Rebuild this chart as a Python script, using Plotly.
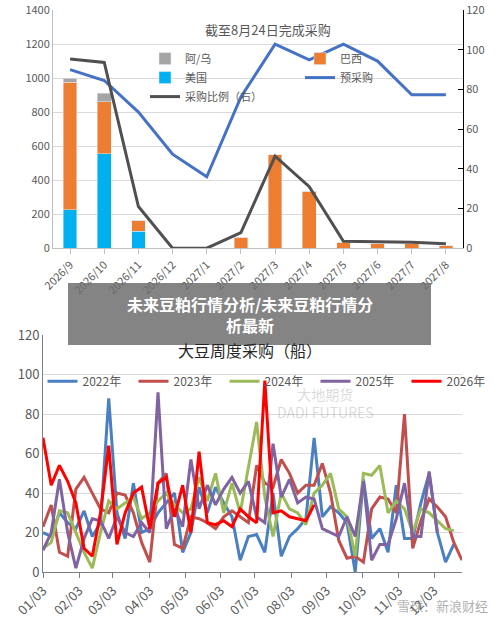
import plotly.graph_objects as go

months = ["2026/9","2026/10","2026/11","2026/12","2027/1","2027/2","2027/3","2027/4","2027/5","2027/6","2027/7","2027/8"]
usa = [225, 555, 100, 0, 0, 0, 0, 0, 0, 0, 0, 0]
brazil = [750, 305, 65, 0, 0, 65, 550, 335, 35, 25, 25, 15]
arg = [25, 50, 0, 0, 0, 0, 0, 0, 0, 0, 0, 0]
pre_buy = [1050, 986, 800, 553, 420, 889, 1200, 1107, 1200, 1100, 902, 902]
ratio = [95.4, 93.6, 21, 0, 0, 7.9, 46.4, 31, 3.5, 3.3, 3.0, 2.2]

week_ticks = ["01/03","02/03","03/03","04/03","05/03","06/03","07/03","08/03","09/03","10/03","11/03","12/03"]
week_tick_pos = [0, 4.4, 8.5, 13, 17.3, 21.6, 25.8, 30.2, 34.5, 38.9, 43.3, 47.6]
s2022 = [20,18,30,25,22,31,18,25,88,30,17,45,20,22,30,35,40,10,20,43,30,43,35,28,6,18,19,10,40,8,18,22,27,68,28,33,30,25,0,47,17,22,10,44,17,17,35,50,20,5,14]
s2023 = [23,34,10,8,42,48,40,32,30,40,39,30,15,5,45,50,14,12,28,27,25,22,28,31,28,25,54,45,43,57,50,40,44,44,55,40,16,7,8,5,32,38,37,30,80,12,26,37,33,28,15,6]
s2024 = [12,15,31,30,20,10,2,20,36,32,35,38,27,30,36,40,34,30,32,48,36,50,30,45,30,52,76,38,18,40,32,30,24,40,44,50,32,28,8,50,49,54,30,36,32,20,32,30,26,22,21]
s2025 = [11,20,47,20,2,17,27,26,17,28,20,18,25,20,91,22,32,23,57,32,44,34,42,48,40,46,28,25,65,38,47,35,38,37,22,20,18,28,18,46,6,14,14,27,45,18,18,51,20]
s2026 = [68,44,54,46,35,12,8,30,64,14,30,40,43,22,45,48,28,44,20,61,25,24,26,23,32,28,25,97,30,31,28,27,26,34]

F = "Noto Sans CJK SC"
GRAY = "#595959"
fig = go.Figure()
x = list(range(len(months)))
fig.add_bar(x=x, y=usa, name="美国", marker_color="#00b0f0", width=0.4, legend="legend", legendrank=2)
fig.add_bar(x=x, y=brazil, name="巴西", marker_color="#ed7d31", width=0.4, legend="legend2", legendrank=1)
fig.add_bar(x=x, y=arg, name="阿/乌", marker_color="#a5a5a5", width=0.4, legend="legend", legendrank=1)
fig.add_scatter(x=x, y=pre_buy, name="预采购", mode="lines", line=dict(color="#4472c4", width=3), legend="legend2", legendrank=2)
fig.add_scatter(x=x, y=ratio, name="采购比例（右）", mode="lines", yaxis="y2", line=dict(color="#505050", width=3), legend="legend", legendrank=3)

cols = {"2022年": ("#4a7fc1", s2022), "2023年": ("#c0504d", s2023), "2024年": ("#9bbb59", s2024),
        "2025年": ("#8064a2", s2025), "2026年": ("#ff0000", s2026)}
for nm, (c, d) in cols.items():
    fig.add_scatter(x=list(range(len(d))), y=d, name=nm, mode="lines", xaxis="x2", yaxis="y3",
                    line=dict(color=c, width=3), legend="legend3")

tick = dict(family=F, size=11, color=GRAY)
fig.update_layout(
    width=500, height=630, margin=dict(l=0, r=0, t=0, b=0, autoexpand=False), plot_bgcolor="white", paper_bgcolor="white",
    barmode="stack", font=dict(family=F),
    xaxis=dict(domain=[0.106, 0.926], range=[-0.5, 11.5], tickvals=x, ticktext=months, tickangle=-45,
               tickfont=tick, showline=True, linecolor="#bfbfbf", ticks="outside", tickcolor="#bfbfbf",
               anchor="y", automargin=False),
    yaxis=dict(domain=[0.606, 0.984], range=[0, 1400], dtick=200, tickfont=tick, gridcolor="#d9d9d9",
               showline=True, linecolor="#bfbfbf", zeroline=False, automargin=False),
    yaxis2=dict(overlaying="y", side="right", range=[0, 120], dtick=20, tickfont=tick, showgrid=False,
                showline=True, linecolor="black", ticks="inside", tickcolor="black", anchor="x", automargin=False),
    xaxis2=dict(domain=[0.086, 0.924], range=[0, 51], tickvals=week_tick_pos, ticktext=week_ticks, tickangle=-45,
                tickfont=dict(family=F, size=13, color=GRAY), showline=True, linecolor="#7f7f7f",
                ticks="outside", tickcolor="#7f7f7f", anchor="y3", automargin=False),
    yaxis3=dict(domain=[0.092, 0.468], range=[0, 120], dtick=20, tickfont=dict(family=F, size=13, color=GRAY),
                gridcolor="#d9d9d9", showline=True, linecolor="#7f7f7f", zeroline=False, anchor="x2", automargin=False),
    legend=dict(x=0.29, y=0.93, xanchor="left", yanchor="top", font=dict(family=F, size=11, color=GRAY),
                bgcolor="rgba(0,0,0,0)", tracegroupgap=4, traceorder="normal"),
    legend2=dict(x=0.6, y=0.93, xanchor="left", yanchor="top", font=dict(family=F, size=11, color=GRAY),
                 bgcolor="rgba(0,0,0,0)", traceorder="normal"),
    legend3=dict(x=0.085, y=0.395, xanchor="left", yanchor="middle", orientation="h",
                 font=dict(family=F, size=12, color=GRAY), bgcolor="rgba(0,0,0,0)",
                 entrywidth=46, entrywidthmode="pixels"),
    showlegend=True,
)
fig.add_annotation(text="截至8月24日完成采购", x=0.535, y=0.972, xref="paper", yref="paper", showarrow=False,
                   font=dict(family=F, size=13, color=GRAY))
fig.add_annotation(text="大豆周度采购（船）", x=0.5, y=0.445, xref="paper", yref="paper", showarrow=False,
                   font=dict(family=F, size=16, color="#262626"))
fig.add_annotation(text="大地期货<br>DADI FUTURES", x=0.65, y=0.36, xref="paper", yref="paper", showarrow=False,
                   font=dict(family=F, size=14, color="rgba(150,150,150,0.35)"))
fig.add_annotation(text="雪球：新浪财经", x=0.98, y=0.02, xref="paper", yref="paper", xanchor="right",
                   showarrow=False, font=dict(family=F, size=13, color="rgba(120,120,120,0.6)"))
fig.add_shape(type="rect", x0=0.136, x1=0.862, y0=1-345/630, y1=1-283/630, xref="paper", yref="paper",
              fillcolor="rgba(110,110,110,0.85)", line_width=0, layer="above")
fig.add_annotation(text="<b>未来豆粕行情分析/未来豆粕行情分</b><br><b>析最新</b>", x=0.5, y=1-314/630,
                   xref="paper", yref="paper", showarrow=False, font=dict(family=F, size=16, color="white"))
fig.write_html("out.html", config={"displayModeBar": False},
               post_script="document.body.style.margin='0';document.body.style.overflow='hidden';")
